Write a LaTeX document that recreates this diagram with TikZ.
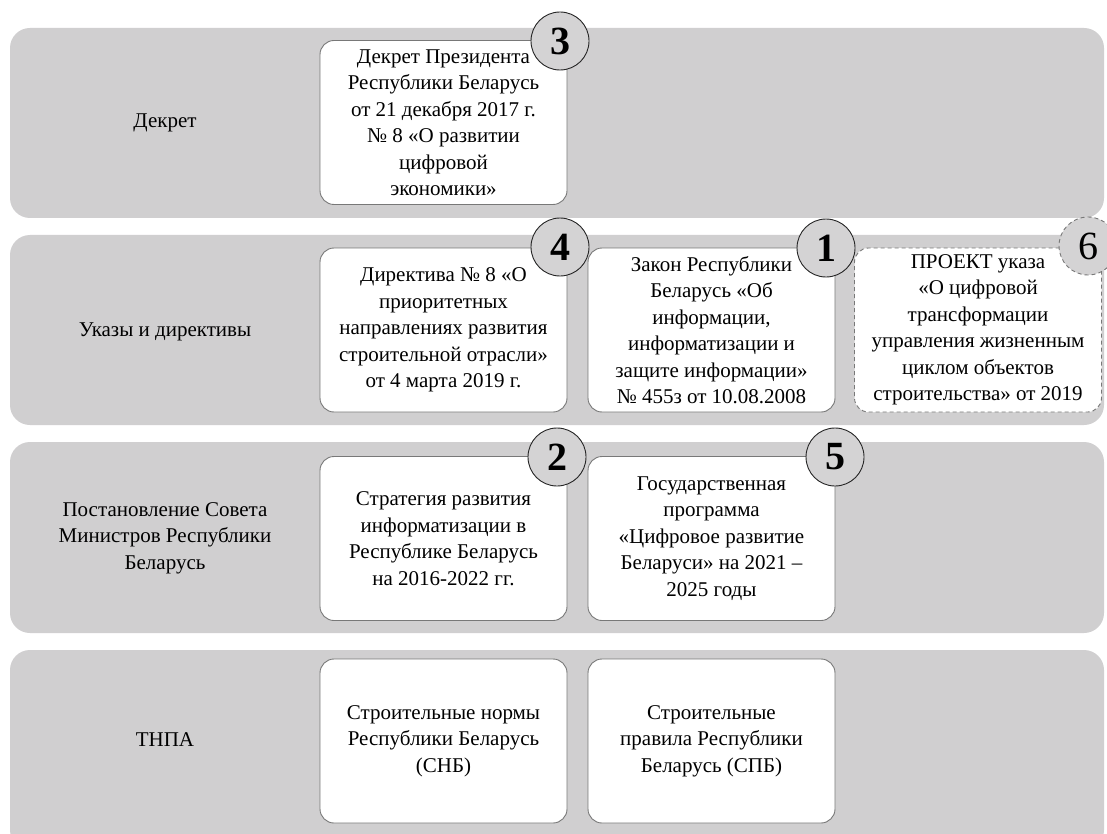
\documentclass[tikz,border=0pt]{standalone}
\usepackage{fontspec}
\setmainfont{Liberation Serif}
\definecolor{bandgray}{RGB}{208,207,208}
\definecolor{circgray}{RGB}{212,211,212}
\definecolor{boxline}{RGB}{120,120,120}
\newcommand{\bodyfnt}{\fontsize{21}{26.5}\selectfont}
\begin{document}
\begin{tikzpicture}[x=1pt,y=-1pt,
  band/.style={fill=bandgray, draw=none, rounded corners=20pt, minimum width=1094pt, inner sep=0pt},
  rowlabel/.style={align=center, font=\bodyfnt, inner sep=0pt},
  docbox/.style={draw=boxline, fill=white, rounded corners=14pt, line width=0.9pt,
    minimum width=247pt, minimum height=164pt, align=center, font=\bodyfnt, inner sep=1pt},
  draftbox/.style={docbox, dashed, dash pattern=on 4pt off 3pt},
  num/.style={circle, draw=black!85, fill=circgray, line width=0.9pt, minimum size=58pt, inner sep=0pt,
    font=\fontsize{40}{40}\selectfont\bfseries},
  draftnum/.style={num, draw=boxline, dashed, dash pattern=on 4pt off 3pt, font=\fontsize{40}{40}\selectfont}
]
\useasboundingbox (0,0) rectangle (1107,834);
\fill[white] (0,0) rectangle (1107,834);

% bands
\node[band, minimum height=190pt] (b1) at (557,123) {};
\node[band, minimum height=190pt] (b2) at (557,330) {};
\node[band, minimum height=191pt] (b3) at (557,537.5) {};
\node[band, minimum height=200pt] (b4) at (557,750) {};

% row labels
\node[rowlabel] (l1) at (165,123) {Декрет};
\node[rowlabel] (l2) at (165,332) {Указы и директивы};
\node[rowlabel] (l3) at (165,538) {Постановление Совета\\Министров Республики\\Беларусь};
\node[rowlabel] (l4) at (165,740) {ТНПА};

% boxes
\node[docbox] (d3) at (443.5,122.5) {Декрет Президента\\Республики Беларусь\\от 21 декабря 2017 г.\\№ 8 «О развитии\\цифровой\\экономики»};
\node[docbox] (d4) at (443.5,330) {Директива № 8 «О\\приоритетных\\направлениях развития\\строительной отрасли»\\от 4 марта 2019 г.};
\node[docbox] (d1) at (711.5,330) {Закон Республики\\Беларусь «Об\\информации,\\информатизации и\\защите информации»\\№ 455з от 10.08.2008};
\node[draftbox] (d6) at (978,330) {ПРОЕКТ указа\\«О цифровой\\трансформации\\управления жизненным\\циклом объектов\\строительства» от 2019};
\node[docbox] (d2) at (443.5,538.5) {Стратегия развития\\информатизации в\\Республике Беларусь\\на 2016-2022 гг.};
\node[docbox] (d5) at (711.5,538.5) {Государственная\\программа\\«Цифровое развитие\\Беларуси» на 2021 –\\2025 годы};
\node[docbox] (snb) at (443.5,741) {Строительные нормы\\Республики Беларусь\\(СНБ)};
\node[docbox] (spb) at (711.5,741) {Строительные\\правила Республики\\Беларусь (СПБ)};

% number badges
\node[num] (n3) at (560,41) {3};
\node[num] (n4) at (560,247) {4};
\node[num] (n1) at (826,248) {1};
\node[draftnum] (n6) at (1088,246) {6};
\node[num] (n2) at (557,457) {2};
\node[num] (n5) at (835,457) {5};
\end{tikzpicture}
\end{document}
